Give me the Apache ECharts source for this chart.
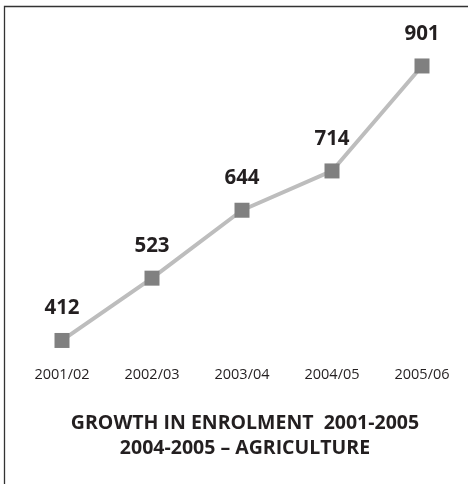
<!DOCTYPE html>
<html><head><meta charset="utf-8">
<script src="https://cdn.jsdelivr.net/npm/echarts@6/dist/echarts.min.js"></script>
<style>html,body{margin:0;padding:0;background:#fff}#c{width:468px;height:484px}</style>
</head><body><div id="c"></div>
<script>
const categories = ['2001/02','2002/03','2003/04','2004/05','2005/06'];
const enrolment = [412, 523, 644, 714, 901];
const titleLines = ['GROWTH IN ENROLMENT  2001-2005', '2004-2005 \u2013 AGRICULTURE'];

const chart = echarts.init(document.getElementById('c'), null, {renderer:'canvas'});
chart.setOption({
  animation: false,
  backgroundColor: '#fff',
  textStyle: { fontFamily: 'Open Sans' },
  graphic: [{
    type: 'rect', shape: { x: 4.5, y: 6.5, width: 520, height: 520 },
    style: { fill: 'none', stroke: '#333', lineWidth: 1.3 }, silent: true
  }],
  title: {
    text: titleLines.join('\n'),
    left: 240, top: 406, textAlign: 'center',
    textStyle: { fontFamily: 'Open Sans', fontWeight: 'bold', fontSize: 19.5, color: '#231f20', lineHeight: 25 }
  },
  grid: { left: 62, width: 360, top: 10.4, height: 336.8 },
  xAxis: {
    type: 'category', data: categories, boundaryGap: false,
    axisLine: { show: false }, axisTick: { show: false },
    axisLabel: { fontSize: 14.5, color: '#231f20', margin: 20, fontFamily: 'Open Sans' }
  },
  yAxis: {
    type: 'value', min: 400, max: 1000,
    show: false, splitLine: { show: false }
  },
  series: [{
    type: 'line', data: enrolment,
    symbol: 'rect', symbolSize: 15,
    itemStyle: { color: '#808080' },
    lineStyle: { color: '#bdbdbd', width: 4 },
    label: { show: true, position: 'top', distance: 14, fontSize: 20.5, fontWeight: 'bold', color: '#231f20', fontFamily: 'Open Sans' }
  }]
});
</script></body></html>
